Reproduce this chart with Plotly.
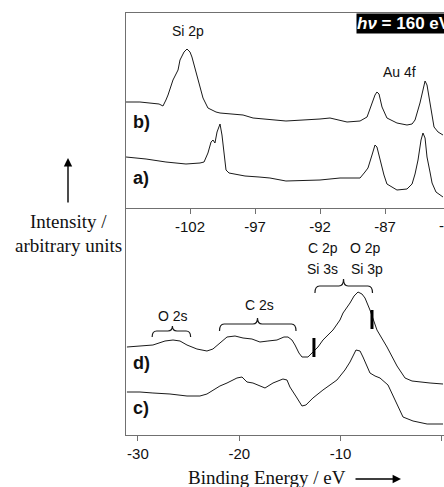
import plotly.graph_objects as go

# ---------------- data ----------------
# top panel: binding energy (eV) and intensity (arb. units)
b_energy = [-106.92, -105.85, -104.38, -104.08, -103.85, -103.69, -103.31, -102.92, -102.77, -102.46,
            -102.23, -102.0, -101.85, -101.46, -101.23, -101.0, -100.62, -100.0, -99.69, -97.92,
            -97.15, -94.62, -92.0, -91.23, -89.92, -88.92, -88.38, -88.0, -87.77, -87.62,
            -87.46, -87.23, -86.85, -86.08, -85.31, -84.92, -84.69, -84.31, -84.08, -83.92,
            -83.77, -83.54, -83.23, -82.92, -82.54]
b_intensity = [106, 106, 104, 102, 108, 113, 128, 138, 148, 156,
               159, 156, 151, 131, 121, 110, 100, 96, 95, 93,
               90, 87, 89, 90, 86, 87, 91, 105, 113, 116,
               114, 101, 90, 85, 83, 84, 88, 105, 120, 127,
               123, 105, 81, 76, 73]

a_energy = [-106.92, -105.38, -103.85, -102.31, -101.23, -100.92, -100.62, -100.38, -100.23, -100.08,
            -99.92, -99.77, -99.69, -99.54, -99.38, -99.23, -99.0, -97.77, -96.69, -95.85,
            -94.62, -92.0, -90.46, -88.92, -88.54, -88.31, -88.0, -87.77, -87.62, -87.38,
            -87.08, -86.85, -86.08, -85.31, -84.92, -84.69, -84.46, -84.23, -84.08, -83.92,
            -83.77, -83.54, -83.38, -83.08, -82.54]
a_intensity = [51, 49, 46, 44, 45, 46, 55, 66, 68, 65,
               76, 83, 84, 73, 53, 38, 35, 32, 31, 30,
               27, 28, 30, 30, 36, 40, 53, 63, 61, 48,
               33, 24, 18, 19, 24, 34, 48, 68, 75, 70,
               51, 36, 25, 16, 11]

# bottom panel
d_energy = [-31.09, -29.80, -28.52, -27.33, -26.54, -25.85, -25.16, -24.18, -23.19, -22.60,
            -21.91, -21.21, -20.42, -19.63, -18.75, -17.96, -17.17, -16.28, -15.59, -15.19,
            -14.80, -14.50, -14.11, -13.81, -13.22, -12.73, -12.23, -11.74, -10.75, -10.06,
            -9.76, -9.07, -8.67, -8.28, -7.89, -7.59, -7.10, -6.41, -5.81, -5.42,
            -4.43, -3.64, -2.95, -2.16, -1.17, 0.11]
d_intensity = [88, 89, 90, 94, 95, 94, 90, 86, 84, 86,
               92, 98, 99, 97, 96, 93, 94, 95, 98, 98,
               95, 90, 82, 78, 78, 83, 88, 95, 105, 115,
               122, 132, 139, 143, 141, 137, 125, 105, 95, 88,
               69, 57, 54, 53, 52, 51]

c_energy = [-31.09, -29.80, -28.52, -26.84, -25.16, -23.88, -23.19, -22.60, -21.91, -21.21,
            -20.23, -19.73, -19.24, -18.65, -17.96, -17.46, -16.67, -15.69, -15.29, -15.0,
            -14.30, -13.81, -13.42, -12.73, -11.74, -10.36, -9.57, -9.07, -8.48, -8.08,
            -7.79, -7.10, -6.60, -6.11, -5.32, -4.63, -3.84, -2.85, -1.46, 0.11]
c_intensity = [43, 43, 42, 41, 39, 39, 41, 45, 49, 52,
               57, 58, 53, 52, 49, 47, 52, 56, 55, 48,
               37, 29, 30, 37, 45, 55, 65, 73, 85, 84,
               78, 62, 59, 57, 50, 35, 18, 14, 11, 11]

top_ticks = [-102, -97, -92, -87, -82]
top_ticktext = ["-102", "-97", "-92", "-87", "-82"]
bottom_ticks = [-30, -20, -10, 0]
bottom_ticktext = ["-30", "-20", "-10", "0"]

# brace spans (eV): x0, tip, x1, y_end, y_bar, y_tip
braces = {
    "O 2s": (-28.6, -26.6, -24.8, 98, 104, 109),
    "C 2s": (-21.95, -18.2, -14.4, 104, 111, 117),
    "C 2p": (-12.53, -9.71, -6.85, 142, 149, 156),
}
marker_lines = [(-12.63, 78, 97), (-6.9, 106, 125)]

# ---------------- figure ----------------
W, H = 444, 487
ML, MR, MT, MB = 126, 0, 13, 52
PW, PH = W - ML - MR, H - MT - MB
split = (435 - 208) / PH

def px(x):
    return (x - ML) / PW

def py(y):
    return (H - MB - y) / PH

line_col = "#1a1a1a"
axis_col = "#707070"
sans = "Liberation Sans, Arial, sans-serif"
serif = "Liberation Serif, Times New Roman, serif"

fig = go.Figure()
for e, i in [(b_energy, b_intensity), (a_energy, a_intensity)]:
    fig.add_trace(go.Scatter(x=e, y=i, mode="lines", line=dict(color=line_col, width=1),
                             xaxis="x", yaxis="y", showlegend=False, hoverinfo="skip"))
for e, i in [(d_energy, d_intensity), (c_energy, c_intensity)]:
    fig.add_trace(go.Scatter(x=e, y=i, mode="lines", line=dict(color=line_col, width=1),
                             xaxis="x2", yaxis="y2", showlegend=False, hoverinfo="skip"))

ax_common = dict(showgrid=False, zeroline=False, linecolor=axis_col, linewidth=1,
                 ticks="outside", ticklen=5, tickcolor=axis_col,
                 tickfont=dict(family=sans, size=15, color="#111"))

fig.update_layout(
    width=W, height=H, margin=dict(l=ML, r=MR, t=MT, b=MB),
    paper_bgcolor="white", plot_bgcolor="white",
    xaxis=dict(domain=[0, 1], anchor="y", range=[-106.923, -82.462], tickvals=top_ticks,
               ticktext=top_ticktext, showline=True, mirror=True, **ax_common),
    yaxis=dict(domain=[split, 1], anchor="x", range=[0, 195], showline=True, showticklabels=False,
               ticks="", showgrid=False, zeroline=False, linecolor=axis_col),
    xaxis2=dict(domain=[0, 1], anchor="y2", range=[-31.18, 0.207], tickvals=bottom_ticks,
                ticktext=bottom_ticktext, showline=True, **ax_common),
    yaxis2=dict(domain=[0, split], anchor="x2", range=[0, 227], showline=True, showticklabels=False,
                ticks="", showgrid=False, zeroline=False, linecolor=axis_col),
)

shapes = []
r = 0.45
for name, (x0, xm, x1, ye, yb, yt) in braces.items():
    path = (f"M {x0},{ye} Q {x0},{yb} {x0 + r},{yb} L {xm - r},{yb} Q {xm},{yb} {xm},{yt} "
            f"Q {xm},{yb} {xm + r},{yb} L {x1 - r},{yb} Q {x1},{yb} {x1},{ye}")
    shapes.append(dict(type="path", path=path, xref="x2", yref="y2",
                       line=dict(color=line_col, width=1.2)))
for (xe, y0, y1) in marker_lines:
    shapes.append(dict(type="line", x0=xe, x1=xe, y0=y0, y1=y1, xref="x2", yref="y2",
                       line=dict(color="black", width=3)))
fig.update_layout(shapes=shapes)

ann = []
def text(x, y, t, size=14, family=sans, color="#111", xanchor="center", **kw):
    ann.append(dict(x=px(x), y=py(y), xref="paper", yref="paper", text=t, showarrow=False,
                    xanchor=xanchor, yanchor="middle",
                    font=dict(family=family, size=size, color=color), **kw))

text(188, 31, "Si 2p")
text(399, 72, "Au 4f")
text(173, 316, "O 2s")
text(259, 305, "C 2s")
text(323, 248, "C 2p")
text(322, 269, "Si 3s")
text(365, 248, "O 2p")
text(367, 269, "Si 3p")
for lab, yy in [("b)", 122), ("a)", 178), ("d)", 363), ("c)", 408)]:
    text(131, yy, f"<b>{lab}</b>", size=18, xanchor="left")
# partially visible tick label at the cut edge
text(450, 226, "-82", size=15)
# photon energy box
ann.append(dict(x=px(356), y=py(23), xref="paper", yref="paper", xanchor="left", yanchor="middle",
                text="<b><i>hν</i> = 160 eV</b>", showarrow=False, bgcolor="black",
                width=100, align="left", borderpad=0,
                font=dict(family=sans, size=17, color="white")))
# axis titles
text(68, 222, "Intensity /", size=19, family=serif)
text(68, 245, "arbitrary units", size=19, family=serif)
text(267, 478, "Binding Energy / eV", size=19, family=serif)
# arrows
ann.append(dict(x=px(68), y=py(158), ax=0, ay=46, xref="paper", yref="paper",
                showarrow=True, arrowhead=2, arrowsize=1.2, arrowwidth=1.4, arrowcolor="black", text=""))
ann.append(dict(x=px(401), y=py(479), ax=-47, ay=0, xref="paper", yref="paper",
                showarrow=True, arrowhead=2, arrowsize=1.2, arrowwidth=1.4, arrowcolor="black", text=""))
fig.update_layout(annotations=ann)

fig.write_html("out.html", config={"displayModeBar": False},
               post_script="document.body.style.margin='0';document.body.style.padding='0';")
